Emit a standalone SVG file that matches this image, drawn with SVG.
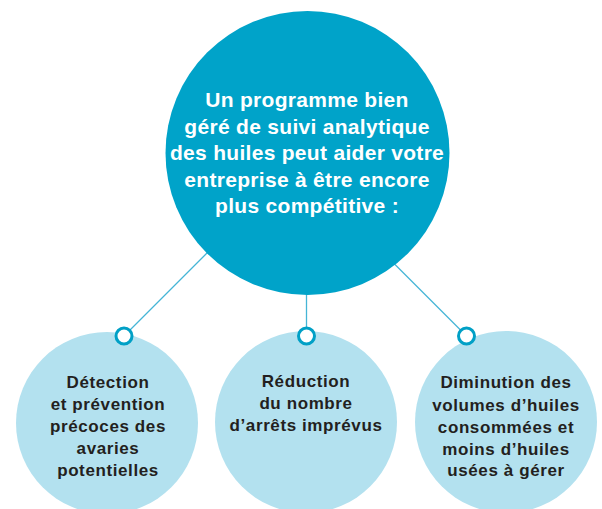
<svg xmlns="http://www.w3.org/2000/svg" width="602" height="509" viewBox="0 0 602 509">
<style>
.main{fill:#00a3c9}
.sub{fill:#b3e1ef}
.ring{fill:#ffffff;stroke:#00a0c6;stroke-width:3}
.conn{stroke:#45b5d6;stroke-width:1.3;fill:none}
.t1{font-family:"Liberation Sans",Arial,sans-serif;font-weight:bold;font-size:21px;letter-spacing:0.3px;fill:#ffffff;text-anchor:middle}
.t2{font-family:"Liberation Sans",Arial,sans-serif;font-weight:bold;font-size:17px;letter-spacing:0.6px;fill:#231f20;text-anchor:middle}
</style>
<rect width="602" height="509" fill="#ffffff"/>
<g id="connectors">
<line class="conn" x1="124" y1="336" x2="215" y2="245"/>
<line class="conn" x1="306.5" y1="336" x2="306.5" y2="285"/>
<line class="conn" x1="466.5" y1="336" x2="390" y2="259.5"/>
</g>
<g id="node-main">
<circle class="main" cx="307.5" cy="153" r="142"/>
<text class="t1"><tspan x="307" y="107">Un programme bien</tspan><tspan x="307" y="133.5">géré de suivi analytique</tspan><tspan x="307" y="160">des huiles peut aider votre</tspan><tspan x="307" y="186.5">entreprise à être encore</tspan><tspan x="307" y="213">plus compétitive :</tspan></text>
</g>
<g id="node-left">
<circle class="sub" cx="107" cy="423" r="91"/>
<circle class="ring" cx="124" cy="336" r="8"/>
<text class="t2"><tspan x="108" y="388">Détection</tspan><tspan x="108" y="410">et prévention</tspan><tspan x="108" y="432">précoces des</tspan><tspan x="108" y="454">avaries</tspan><tspan x="108" y="476">potentielles</tspan></text>
</g>
<g id="node-middle">
<circle class="sub" cx="306" cy="422" r="91"/>
<circle class="ring" cx="306.5" cy="336" r="8"/>
<text class="t2"><tspan x="306" y="387">Réduction</tspan><tspan x="306" y="409">du nombre</tspan><tspan x="306" y="431">d’arrêts imprévus</tspan></text>
</g>
<g id="node-right">
<circle class="sub" cx="506" cy="422" r="91"/>
<circle class="ring" cx="466.5" cy="336" r="8"/>
<text class="t2"><tspan x="506" y="388">Diminution des</tspan><tspan x="506" y="411">volumes d’huiles</tspan><tspan x="506" y="433">consommées et</tspan><tspan x="506" y="455">moins d’huiles</tspan><tspan x="506" y="476">usées à gérer</tspan></text>
</g>
</svg>
